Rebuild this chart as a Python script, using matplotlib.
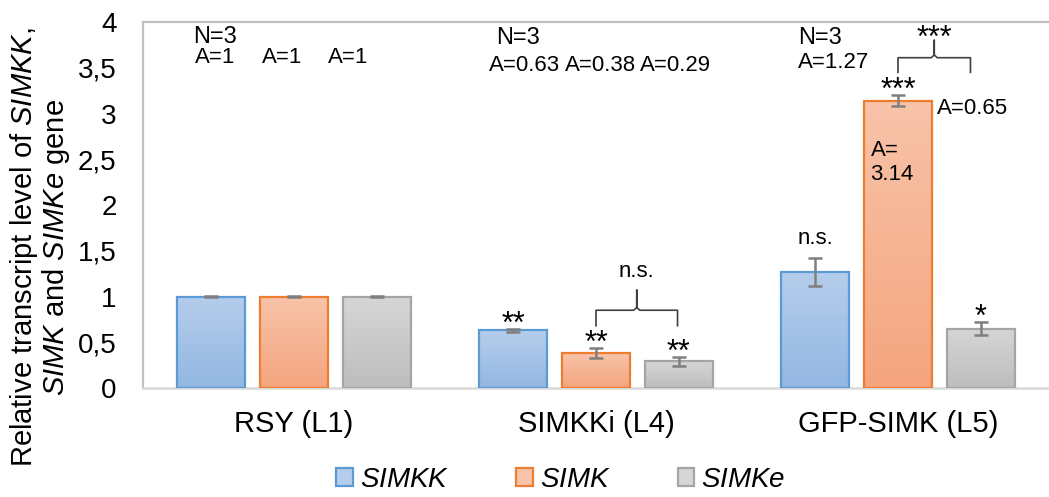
import numpy as np
import matplotlib
matplotlib.use("Agg")
import matplotlib.pyplot as plt
from matplotlib.colors import LinearSegmentedColormap
from matplotlib.patches import Patch

plt.rcParams['font.family'] = ['Liberation Sans', 'DejaVu Sans']
plt.rcParams['mathtext.fontset'] = 'custom'
plt.rcParams['mathtext.rm'] = 'Liberation Sans'
plt.rcParams['mathtext.it'] = 'Liberation Sans:italic'

# data
lines = ['RSY (L1)', 'SIMKKi (L4)', 'GFP-SIMK (L5)']
genes = ['SIMKK', 'SIMK', 'SIMKe']
simkk = [1.0, 0.63, 1.27]
simk = [1.0, 0.38, 3.14]
simke = [1.0, 0.29, 0.65]
simkk_err = [0.005, 0.02, 0.15]
simk_err = [0.005, 0.055, 0.06]
simke_err = [0.005, 0.05, 0.07]
# significance marks per line, per gene
stars = [['', '', ''], ['**', '**', '**'], ['n.s.', '***', '*']]
yticks = [0, 0.5, 1, 1.5, 2, 2.5, 3, 3.5, 4]
ytick_labels = ['0', '0,5', '1', '1,5', '2', '2,5', '3', '3,5', '4']

# text labels: (x, y, text, size)
notes = [(-0.335, 3.836, 'N=3', 17),
         (-0.328, 3.607, 'A=1', 16), (-0.107, 3.607, 'A=1', 16), (0.111, 3.607, 'A=1', 16),
         (0.668, 3.825, 'N=3', 17),
         (0.645, 3.53, 'A=0.63', 16), (0.896, 3.53, 'A=0.38', 16), (1.144, 3.53, 'A=0.29', 16),
         (1.668, 3.825, 'N=3', 17), (1.668, 3.563, 'A=1.27', 16),
         (2.130, 3.06, 'A=0.65', 16), (1.909, 2.60, 'A=', 16), (1.909, 2.33, '3.14', 16)]

edge_cols = ['#5b9bd5', '#ed7d31', '#a5a5a5']
top_cols = ['#b5cdec', '#f8c3a9', '#d6d6d6']
bot_cols = ['#93b7e2', '#f4a57f', '#bdbdbd']

fig = plt.figure(figsize=(10.49, 4.97), dpi=100)
ax = fig.add_axes([0.1363, 0.2193, 0.8637, 0.7364])

x = np.arange(len(lines))
w = 0.224
step = 0.274
vals = [simkk, simk, simke]
errs = [simkk_err, simk_err, simke_err]
grad = np.linspace(0, 1, 64).reshape(-1, 1)

for i in range(3):
    xs = x + (i - 1) * step
    bars = ax.bar(xs, vals[i], w, facecolor='none', edgecolor=edge_cols[i],
                  linewidth=1.6, zorder=3)
    cmap = LinearSegmentedColormap.from_list('g%d' % i, [top_cols[i], bot_cols[i]])
    for r in bars:
        im = ax.imshow(grad, cmap=cmap, aspect='auto', interpolation='bicubic',
                       extent=[r.get_x(), r.get_x() + r.get_width(), 0, r.get_height()],
                       zorder=2)
        im.set_clip_path(r)
    ax.errorbar(xs, vals[i], yerr=errs[i], fmt='none', ecolor='#7f7f7f',
                elinewidth=1.8, capsize=5, capthick=1.8, zorder=4)
    for j in range(3):
        s = stars[j][i]
        if not s:
            continue
        if s == 'n.s.':
            off, fs = 10, 16
        else:
            off, fs = -3, 22
        ax.annotate(s, (xs[j], vals[i][j] + errs[i][j]),
                    xytext=(0, off), textcoords='offset points',
                    ha='center', va='baseline', fontsize=fs)

ax.set_xlim(-0.5, 2.5)
ax.set_ylim(0, 4)

for nx, ny, t, fs in notes:
    ax.text(nx, ny, t, ha='left', va='center', fontsize=fs)


def bracket(x0, x1, y_end, y_top, y_peak, label, ly, fs):
    xm = (x0 + x1) / 2
    c = '#404040'
    ax.plot([x0, x0, xm - 0.01, xm, xm, xm, xm + 0.01, x1, x1],
            [y_end, y_top, y_top, y_top + 0.03, y_peak, y_top + 0.03, y_top, y_top, y_end],
            color=c, lw=1.2, solid_joinstyle='round', zorder=5)
    ax.text(xm, ly, label, ha='center', va='baseline', fontsize=fs)


bracket(1.0, 1.27, 0.68, 0.85, 1.07, 'n.s.', 1.21, 16)
bracket(2.0, 2.24, 3.45, 3.61, 3.80, '***', 3.73, 22)

ax.set_yticks(yticks)
ax.set_yticklabels(ytick_labels, fontsize=20)
ax.set_xticks(x)
ax.set_xticklabels(lines, fontsize=21)
ax.tick_params(axis='y', length=0, pad=19)
ax.tick_params(axis='x', length=0, pad=16)

for s in ['top', 'left']:
    ax.spines[s].set_color('#c0c0c0')
    ax.spines[s].set_linewidth(1.6)
ax.spines['bottom'].set_color('#d9d9d9')
ax.spines['bottom'].set_linewidth(1.8)
ax.spines['right'].set_visible(False)

fig.text(40 / 1049, 1 - 247 / 497,
         'Relative transcript level of $\\it{SIMKK}$,\n$\\it{SIMK}$ and $\\it{SIMKe}$ gene',
         rotation=90, ha='center', va='center', fontsize=21, linespacing=1.0,
         multialignment='center')

handles = [Patch(facecolor=top_cols[i], edgecolor=edge_cols[i], linewidth=1.6) for i in range(3)]
fig.legend(handles, ['$\\it{%s}$' % g for g in genes], loc='center', ncol=3,
           bbox_to_anchor=(561 / 1049, 1 - 480 / 497), frameon=False, fontsize=20,
           handlelength=0.6, handleheight=0.6, handletextpad=0.26, columnspacing=2.4,
           borderpad=0.1)

fig.savefig('out.png', dpi=100)
